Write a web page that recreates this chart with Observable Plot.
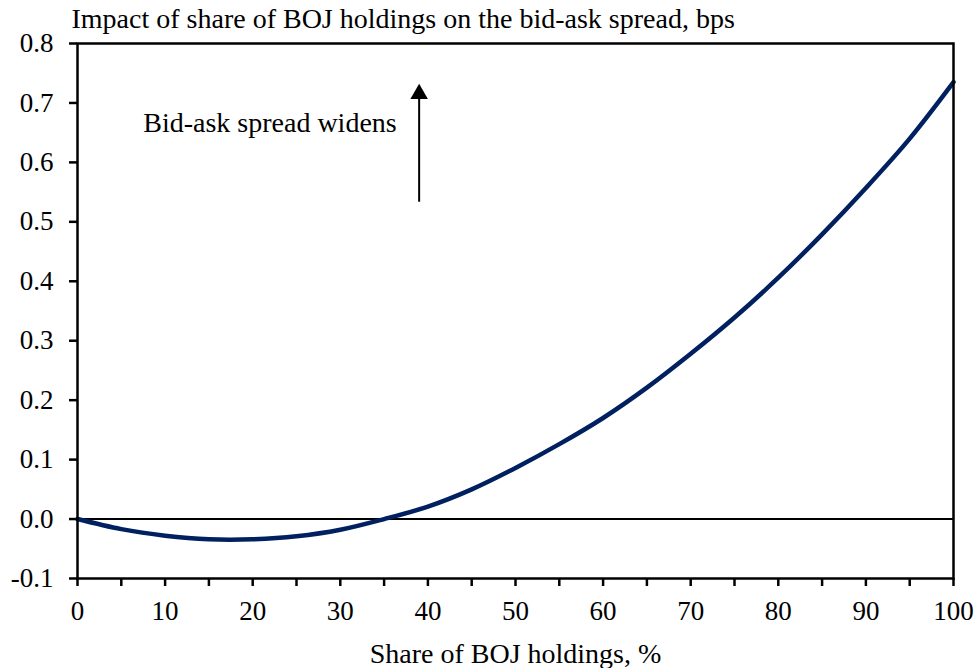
<!DOCTYPE html>
<html>
<head>
<meta charset="utf-8">
<script src="https://cdn.jsdelivr.net/npm/d3@7"></script>
<script src="https://cdn.jsdelivr.net/npm/@observablehq/plot@0.6"></script>
<style>
  html, body { margin: 0; padding: 0; background: #fff; }
</style>
</head>
<body>
<div id="chart"></div>
<script>
// Data
const share = [0, 5, 10, 15, 20, 25, 30, 35, 40, 45, 50, 55, 60, 65, 70, 75, 80, 85, 90, 95, 100];
const impact = [0, -0.017, -0.028, -0.034, -0.034, -0.029, -0.018, 0.000, 0.021, 0.050, 0.086, 0.126, 0.170, 0.221, 0.278, 0.339, 0.406, 0.479, 0.557, 0.640, 0.735];
const yTicks = [-0.1, 0, 0.1, 0.2, 0.3, 0.4, 0.5, 0.6, 0.7, 0.8];
const xTicks = [0, 5, 10, 15, 20, 25, 30, 35, 40, 45, 50, 55, 60, 65, 70, 75, 80, 85, 90, 95, 100];
const titleText = "Impact of share of BOJ holdings on the bid-ask spread, bps";
const xLabelText = "Share of BOJ holdings, %";
const annotText = "Bid-ask spread widens";
const annotPos = [{x: 7.5, y: 0.666}];
const arrowSeg = [{x: 39, y1: 0.533, y2: 0.71}];
const arrowHead = [{x: 39, y: 0.7152}];

const data = share.map((s, i) => ({share: s, impact: impact[i]}));
const FONT = "Liberation Serif";

const chart = Plot.plot({
  width: 976,
  height: 668,
  marginTop: 43,
  marginBottom: 90,
  marginLeft: 77,
  marginRight: 23,
  style: "font-family: 'Liberation Serif', serif; background: #fff; color: #000;",
  x: {domain: [0, 100]},
  y: {domain: [-0.1, 0.8]},
  marks: [
    Plot.ruleY([0], {stroke: "#000", strokeWidth: 2}),
    Plot.line(data, {x: "share", y: "impact", stroke: "#002060", strokeWidth: 4.5, curve: "catmull-rom"}),
    Plot.frame({stroke: "#000", strokeWidth: 2.5}),
    Plot.axisY({ticks: yTicks, tickFormat: d => d.toFixed(1), tickSize: 8, tickPadding: 16, fontSize: 27, fontFamily: FONT, label: null, strokeWidth: 2.5}),
    Plot.axisX({ticks: xTicks, tickFormat: d => d % 10 === 0 ? String(d) : "", tickSize: 8, tickPadding: 14, fontSize: 27, fontFamily: FONT, label: null, strokeWidth: 2.5}),
    Plot.ruleX(arrowSeg, {x: "x", y1: "y1", y2: "y2", stroke: "#000", strokeWidth: 2}),
    Plot.dot(arrowHead, {x: "x", y: "y", symbol: "triangle", r: 6.5, fill: "#000", stroke: "none"}),
    Plot.text(annotPos, {x: "x", y: "y", text: () => annotText, textAnchor: "start", lineAnchor: "middle", fontSize: 28, fontFamily: FONT, fill: "#000"}),
    Plot.text([titleText], {frameAnchor: "top-left", dx: -6, dy: -24.5, textAnchor: "start", lineAnchor: "middle", fontSize: 28, fontFamily: FONT, fill: "#000"}),
    Plot.text([xLabelText], {frameAnchor: "bottom", dy: 75.5, lineAnchor: "middle", fontSize: 28, fontFamily: FONT, fill: "#000"})
  ]
});
document.getElementById("chart").appendChild(chart);
</script>
</body>
</html>
